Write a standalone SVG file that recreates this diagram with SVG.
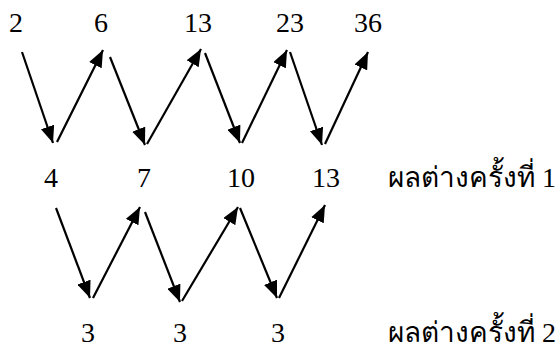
<svg xmlns="http://www.w3.org/2000/svg" width="557" height="347" viewBox="0 0 557 347">
<defs>
<marker id="ah" markerUnits="userSpaceOnUse" markerWidth="18" markerHeight="14" viewBox="0 0 18 14" refX="17" refY="7" orient="auto">
<path d="M0,0 L17,7 L0,14 Z" fill="#000"/>
</marker>
<style>
.t{font-family:"Liberation Serif","DejaVu Serif",serif;font-size:28px;fill:#000}
.th{font-family:"Liberation Serif","DejaVu Serif","Noto Sans",serif;font-size:28px;fill:#000}
.a{stroke:#000;stroke-width:2.2;fill:none;marker-end:url(#ah)}
</style>
</defs>
<rect width="557" height="347" fill="#fff"/>
<g id="row1">
<text class="t" x="9" y="32">2</text>
<text class="t" x="94" y="32">6</text>
<text class="t" x="184" y="32">13</text>
<text class="t" x="276" y="32">23</text>
<text class="t" x="354" y="32">36</text>
</g>
<g id="row2">
<text class="t" x="44" y="187">4</text>
<text class="t" x="137" y="187">7</text>
<text class="t" x="227" y="187">10</text>
<text class="t" x="312" y="187">13</text>
<text class="th" x="388" y="187">ผลต่างครั้งที่ 1</text>
</g>
<g id="row3">
<text class="t" x="81" y="342">3</text>
<text class="t" x="173" y="342">3</text>
<text class="t" x="271" y="342">3</text>
<text class="th" x="388" y="342">ผลต่างครั้งที่ 2</text>
</g>
<g id="connectors">
<line class="a" x1="22" y1="52" x2="53" y2="143"/>
<line class="a" x1="57" y1="142" x2="103" y2="50"/>
<line class="a" x1="110" y1="57" x2="145" y2="145"/>
<line class="a" x1="147" y1="144" x2="201" y2="49"/>
<line class="a" x1="205" y1="53" x2="240" y2="143"/>
<line class="a" x1="242" y1="143" x2="287" y2="50"/>
<line class="a" x1="290" y1="52" x2="322" y2="145"/>
<line class="a" x1="325" y1="144" x2="368" y2="52"/>
<line class="a" x1="56" y1="208" x2="90" y2="298"/>
<line class="a" x1="93" y1="298" x2="140" y2="207"/>
<line class="a" x1="145" y1="212" x2="180" y2="302"/>
<line class="a" x1="182" y1="301" x2="238" y2="207"/>
<line class="a" x1="240" y1="208" x2="277" y2="298"/>
<line class="a" x1="279" y1="298" x2="325" y2="205"/>
</g>
</svg>
